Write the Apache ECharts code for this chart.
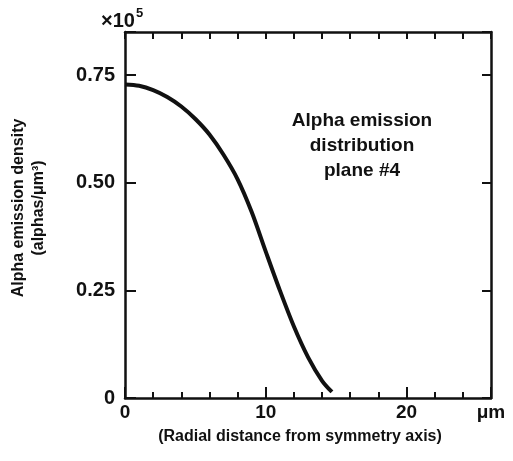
<!DOCTYPE html>
<html>
<head>
<meta charset="utf-8">
<script src="https://cdn.jsdelivr.net/npm/echarts@6/dist/echarts.min.js"></script>
<style>
  html, body { margin: 0; padding: 0; background: #fff; }
  #chart { width: 513px; height: 461px; }
</style>
</head>
<body>
<div id="chart"></div>
<script>
// radial distance (um) and alpha emission density (x10^5 alphas/um^3)
var radius = [0, 1, 2, 3, 4, 5, 6, 7, 8, 9, 10, 11, 12, 13, 14, 14.7];
var density = [0.728, 0.725, 0.715, 0.699, 0.677, 0.648, 0.612, 0.565, 0.508, 0.432, 0.340, 0.250, 0.166, 0.095, 0.040, 0.014];
var xMajorLabels = [0, 10, 20];
var yTicks = [0, 0.25, 0.5, 0.75];

var font = '"Liberation Sans", Arial, sans-serif';
var ink = '#111';

var points = radius.map(function (r, i) { return [r, density[i]]; });

var myChart = echarts.init(document.getElementById('chart'));

var option = {
  animation: false,
  backgroundColor: '#fff',
  textStyle: { fontFamily: font, color: ink },
  grid: { left: 125, right: 22, top: 32, bottom: 63 },
  graphic: [
    {
      type: 'text',
      x: 362,
      y: 108,
      style: {
        text: 'Alpha emission\ndistribution\nplane #4',
        align: 'center',
        verticalAlign: 'top',
        fontFamily: font,
        fontWeight: 'bold',
        fontSize: 19,
        lineHeight: 25,
        fill: ink
      }
    },
    {
      type: 'text',
      x: 101,
      y: 5,
      style: {
        text: '{a|×10}{sup|5}',
        fontFamily: font,
        fill: ink,
        rich: {
          a: { fontFamily: font, fontWeight: 'bold', fontSize: 20, color: ink, padding: [6, 0, 0, 0] },
          sup: { fontFamily: font, fontWeight: 'bold', fontSize: 13, color: ink, padding: [0, 0, 9, 1] }
        }
      }
    }
  ],
  xAxis: [
    {
      type: 'value',
      position: 'bottom',
      min: 0,
      max: 26,
      interval: 10,
      splitLine: { show: false },
      axisLine: { onZero: false, lineStyle: { color: ink, width: 2.5 } },
      axisTick: { show: true, inside: true, length: 11, lineStyle: { color: ink, width: 2 } },
      axisLabel: {
        color: ink,
        fontFamily: font,
        fontWeight: 'bold',
        fontSize: 19,
        margin: 5,
        showMaxLabel: true,
        formatter: function (v) {
          if (xMajorLabels.indexOf(v) >= 0) return String(v);
          if (v === 26) return 'μm';
          return '';
        }
      },
      name: '(Radial distance from symmetry axis)',
      nameLocation: 'middle',
      nameGap: 31,
      nameTextStyle: {
        color: ink,
        fontFamily: font,
        fontWeight: 'bold',
        fontSize: 16,
        padding: [0, 16, 0, 0]
      }
    },
    {
      type: 'value',
      position: 'bottom',
      min: 0,
      max: 26,
      interval: 2,
      splitLine: { show: false },
      axisLine: { show: false, onZero: false },
      axisTick: { show: true, inside: true, length: 6, lineStyle: { color: ink, width: 2 } },
      axisLabel: { show: false }
    },
    {
      type: 'value',
      position: 'top',
      min: 0,
      max: 26,
      interval: 2,
      splitLine: { show: false },
      axisLine: { onZero: false, lineStyle: { color: ink, width: 2.5 } },
      axisTick: { show: true, inside: true, length: 7, lineStyle: { color: ink, width: 2 } },
      axisLabel: { show: false }
    }
  ],
  yAxis: [
    {
      type: 'value',
      position: 'left',
      min: 0,
      max: 0.85,
      interval: 0.25,
      splitLine: { show: false },
      axisLine: { onZero: false, lineStyle: { color: ink, width: 2.5 } },
      axisTick: { show: true, inside: true, length: 11, lineStyle: { color: ink, width: 2 } },
      axisLabel: {
        color: ink,
        fontFamily: font,
        fontWeight: 'bold',
        fontSize: 20,
        margin: 10,
        showMaxLabel: true,
        formatter: function (v) {
          for (var i = 0; i < yTicks.length; i++) {
            if (Math.abs(v - yTicks[i]) < 1e-6) return v === 0 ? '0' : v.toFixed(2);
          }
          return '';
        }
      },
      name: 'Alpha emission density\n(alphas/μm³)',
      nameLocation: 'middle',
      nameRotate: 90,
      nameGap: 76,
      nameTextStyle: {
        color: ink,
        fontFamily: font,
        fontWeight: 'bold',
        fontSize: 16,
        lineHeight: 20,
        padding: [0, 0, 0, 14]
      }
    },
    {
      type: 'value',
      position: 'right',
      min: 0,
      max: 0.85,
      interval: 0.25,
      splitLine: { show: false },
      axisLine: { onZero: false, lineStyle: { color: ink, width: 2.5 } },
      axisTick: { show: true, inside: true, length: 9, lineStyle: { color: ink, width: 2 } },
      axisLabel: { show: false }
    }
  ],
  series: [
    {
      name: 'Alpha emission',
      type: 'line',
      xAxisIndex: 0,
      yAxisIndex: 0,
      data: points,
      smooth: 0.3,
      showSymbol: false,
      lineStyle: { color: ink, width: 4 }
    }
  ]
};

myChart.setOption(option);
window.onresize = function () {
  myChart.resize();
};
</script>
</body>
</html>
